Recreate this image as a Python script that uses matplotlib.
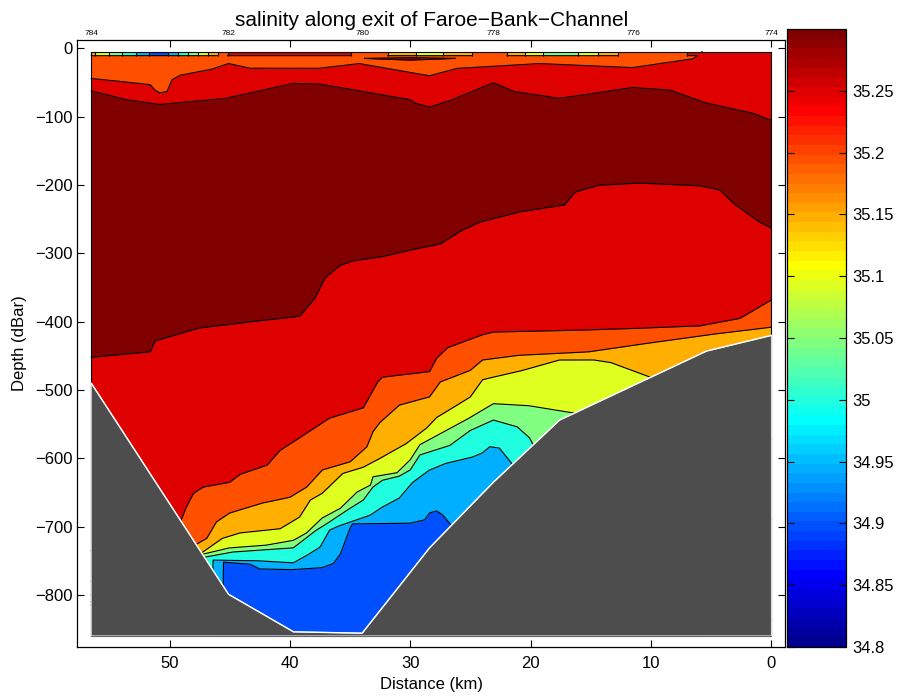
import numpy as np
import matplotlib
matplotlib.use("Agg")
import matplotlib.pyplot as plt
from matplotlib.colors import ListedColormap, Normalize
from matplotlib.cm import ScalarMappable
from matplotlib.patches import Rectangle

plt.rcParams['font.family'] = ['Liberation Sans', 'DejaVu Sans']

# ---------------- data ----------------
station_ids = [784, 783, 782, 781, 780, 779, 778, 777, 776, 775, 774]
station_km = [56.5, 50.8, 45.1, 39.7, 34.0, 28.4, 23.1, 17.6, 11.5, 5.4, 0.0]
labelled_ids = [784, 782, 780, 778, 776, 774]
# salinity in the uppermost (surface) bin at each station
surface_sal = [35.115, 34.86, 35.205, 35.23, 35.194, 35.077, 35.187, 35.005, 35.186, 35.205, 35.22]

# band edges (salinity) of the filled contours
band_levels = [34.85, 34.90, 34.95, 35.00, 35.05, 35.10, 35.15, 35.20, 35.25, 35.30]
cbar_ticks = [34.80, 34.85, 34.90, 34.95, 35.00, 35.05, 35.10, 35.15, 35.20, 35.25]

# isohaline depths (dBar) along distance (km)
iso3525_top_km = [56.5, 53.6, 50.8, 45.3, 39.7, 37.5, 30.0, 29.6, 28.4, 26.5, 24.6, 23.1, 21.4, 17.6, 12.6, 11.5, 8.4, 5.4, 1.5, 0.0]
iso3525_top_d = [-62, -75, -82, -73, -51, -52, -75, -80, -86, -75, -61, -50, -63, -73, -60, -57, -61, -80, -95, -105]

iso3520_top_km = [56.5, 53.6, 51.6, 51.2, 50.8, 50.2, 49.8, 49.1, 46.4, 45.1, 43.3, 37.5, 34.2, 28.4, 26.1, 19.2, 11.5, 6.5, 5.9, 5.5, 0.0]
iso3520_top_d = [-44, -49, -53, -61, -65, -63, -46, -39, -30, -22, -29, -29, -22, -40, -29, -22, -28, -15, -7, 0, 0]

iso3525_bot_km = [56.5, 51.6, 51.2, 47.5, 42.3, 39.2, 37.9, 37.1, 35.8, 34.8, 32.1, 30.0, 27.5, 25.7, 24.2, 20.9, 17.2, 16.3, 14.3, 10.9, 5.9, 4.3, 3.0, 1.0, 0.0]
iso3525_bot_d = [-452, -444, -428, -409, -398, -392, -365, -336, -317, -311, -304, -295, -286, -266, -254, -239, -229, -210, -200, -197, -201, -207, -229, -254, -263]

iso3520_km = [52.0, 49.1, 48.6, 48.0, 47.2, 45.0, 44.1, 41.9, 40.8, 39.2, 36.7, 33.9, 32.7, 32.3, 28.4, 27.8, 26.9, 24.0, 23.1, 15.1, 10.1, 5.9, 2.6, 0.0]
iso3520_d = [-735, -693, -671, -651, -642, -635, -623, -610, -588, -570, -541, -526, -488, -481, -473, -453, -438, -419, -415, -412, -409, -406, -395, -368]

iso3515_km = [52.0, 47.9, 46.9, 46.4, 46.1, 45.0, 42.2, 40.0, 38.6, 37.3, 35.0, 33.6, 33.1, 32.5, 30.9, 28.4, 27.5, 25.0, 24.0, 20.9, 15.1, 10.1, 4.3, 0.0]
iso3515_d = [-780, -727, -717, -702, -693, -680, -665, -657, -642, -617, -605, -583, -561, -547, -522, -510, -488, -471, -456, -449, -444, -431, -417, -408]

iso3510_km = [52.0, 47.4, 45.6, 44.1, 40.8, 39.2, 38.3, 37.3, 35.6, 33.9, 32.3, 30.3, 28.6, 27.8, 26.1, 25.0, 24.0, 23.1, 20.6, 17.6, 14.7, 13.3, 10.1, 5.9, 0.0]
iso3510_d = [-800, -739, -717, -709, -703, -686, -661, -651, -622, -613, -598, -578, -555, -540, -522, -510, -485, -481, -471, -456, -456, -460, -481, -515, -573]

iso3505_km = [52.0, 47.2, 45.0, 41.9, 39.7, 38.6, 37.3, 35.8, 34.4, 33.3, 33.1, 31.1, 30.0, 29.2, 25.0, 23.1, 20.1, 16.3, 12.6, 0.0]
iso3505_d = [-810, -740, -731, -727, -720, -709, -687, -673, -649, -639, -627, -621, -602, -580, -540, -520, -523, -534, -573, -690]

iso3500_km = [52.0, 47.2, 44.7, 39.7, 37.8, 36.7, 36.1, 35.0, 33.9, 33.1, 32.3, 30.9, 30.0, 29.2, 26.7, 25.0, 23.1, 21.1, 20.1, 19.8, 17.6, 0.0]
iso3500_d = [-815, -745, -737, -731, -705, -693, -686, -673, -661, -642, -632, -626, -617, -595, -581, -559, -544, -554, -570, -580, -617, -837]

iso3495_km = [52.0, 46.45, 46.39, 42.5, 39.7, 38.3, 37.5, 36.7, 35.8, 33.3, 32.3, 30.9, 29.8, 28.4, 27.0, 24.8, 24.0, 23.4, 22.6, 22.0, 21.6, 20.1, 0.0]
iso3495_d = [-900, -900, -749, -750, -753, -739, -730, -705, -698, -683, -671, -658, -635, -617, -607, -598, -592, -583, -585, -598, -607, -646, -950]

iso3490_km = [52.0, 45.62, 45.52, 43.3, 42.5, 39.7, 37.3, 36.4, 35.8, 35.0, 34.8, 30.0, 28.8, 28.4, 27.8, 27.3, 26.5, 25.0, 20.0, 0.0]
iso3490_d = [-900, -900, -752, -755, -762, -763, -760, -754, -740, -702, -696, -695, -690, -680, -677, -683, -700, -740, -900, -900]

# thin saltier lens just below the surface bin
lens_km = [33.8, 30.0, 26.3]
lens_top_d = [-14.5, -13.3, -14.5]
lens_bot_d = [-14.5, -17.0, -14.5]

# bottom topography
bathy_km = [56.5, 45.1, 39.7, 34.0, 28.4, 23.1, 17.6, 5.4, 0.0]
bathy_d = [-490, -799, -854, -856, -731, -635, -544, -443, -420]

# ---------------- style ----------------
Z_TOP = -4.5
STRIP_BOT = -10.5
Z_FLOOR = -860.0
X_WEST = station_km[0]


def matlab_jet(m=64):
    n = int(np.ceil(m / 4))
    u = np.r_[np.arange(1, n + 1) / n, np.ones(n - 1), np.arange(n, 0, -1) / n]
    g = int(np.ceil(n / 2)) - (1 if m % 4 == 1 else 0) + np.arange(1, len(u) + 1)
    r = g + n
    b = g - n
    cm = np.zeros((m, 3))
    for col, idx in ((0, r), (1, g), (2, b)):
        ok = (idx >= 1) & (idx <= m)
        cm[idx[ok] - 1, col] = u[ok]
    return cm


jet64 = matlab_jet(64)
cmap = ListedColormap(jet64)
band_idx = [13, 19, 26, 32, 38, 45, 51, 58, 64]
band_colors = [tuple(jet64[i - 1]) for i in band_idx]
(c_blue, c_lblue, c_cyan, c_green, c_yellow, c_orange, c_ored, c_red, c_dred) = band_colors

fig = plt.figure(figsize=(8.97, 6.96), dpi=100)
ax = fig.add_axes([0.0862, 0.0708, 0.7889, 0.8717])

xf = np.linspace(0.0, X_WEST, 3000)


def on_grid(km, d):
    km = np.asarray(km, float)[::-1]
    d = np.asarray(d, float)[::-1]
    v = np.interp(xf, km, d)
    return np.clip(v, Z_FLOOR, Z_TOP)


layers = [
    (None, c_ored),
    ((iso3520_top_km, iso3520_top_d), c_red),
    ((iso3525_top_km, iso3525_top_d), c_dred),
    ((iso3525_bot_km, iso3525_bot_d), c_red),
    ((iso3520_km, iso3520_d), c_ored),
    ((iso3515_km, iso3515_d), c_orange),
    ((iso3510_km, iso3510_d), c_yellow),
    ((iso3505_km, iso3505_d), c_green),
    ((iso3500_km, iso3500_d), c_cyan),
    ((iso3495_km, iso3495_d), c_lblue),
    ((iso3490_km, iso3490_d), c_blue),
]

for bound, col in layers:
    if bound is None:
        top = np.full_like(xf, Z_TOP)
    else:
        top = on_grid(*bound)
    ax.fill_between(xf, top, Z_FLOOR, color=col, lw=0, zorder=1)
    if bound is not None:
        line = np.where((top >= Z_TOP) | (top <= Z_FLOOR), np.nan, top)
        ax.plot(xf, line, color='k', lw=0.8, zorder=2)

# surface bin
sk = np.asarray(station_km)[::-1]
ss = np.asarray(surface_sal)[::-1]
SX, SY = np.meshgrid(sk, [STRIP_BOT, Z_TOP])
SZ = np.vstack([ss, ss])
ax.contourf(SX, SY, SZ, levels=band_levels, colors=band_colors, zorder=3)
ax.contour(SX, SY, SZ, levels=band_levels[1:-1], colors='k', linewidths=0.8, zorder=3.5)
sv = np.interp(xf, sk, ss)
strip_band = np.digitize(sv, band_levels)
front = on_grid(iso3520_top_km, iso3520_top_d)
below_band = np.where(front > STRIP_BOT, np.digitize(35.22, band_levels), np.digitize(35.17, band_levels))
edge = np.where(strip_band != below_band, STRIP_BOT, np.nan)
ax.plot(xf, edge, color='k', lw=0.8, zorder=3.6)

# lens
ax.fill_between(lens_km, lens_top_d, lens_bot_d, color=c_dred, lw=0, zorder=3)
ax.plot(lens_km, lens_top_d, color='k', lw=0.8, zorder=3.6)
ax.plot(lens_km, lens_bot_d, color='k', lw=0.8, zorder=3.6)

# outline of the data area
ax.add_patch(Rectangle((0, Z_FLOOR), X_WEST, Z_TOP - Z_FLOOR, fill=False, ec='k', lw=0.8, zorder=3.7))

# topography
ax.fill(list(bathy_km) + [0.0, X_WEST], list(bathy_d) + [Z_FLOOR, Z_FLOOR],
        facecolor='#4d4d4d', edgecolor='#d8d8d8', lw=0.8, zorder=5)
ax.plot(bathy_km, bathy_d, color='white', lw=1.0, zorder=5.1)

# station labels
for sid, km in zip(station_ids, station_km):
    if sid in labelled_ids:
        ax.text(km, 1.0115, str(sid), transform=ax.get_xaxis_transform(),
                ha='center', va='center', fontsize=6, clip_on=False)

ax.set_xlim(57.66, -1.12)
ax.set_ylim(-875.8, 12.4)
ax.set_xticks([0, 10, 20, 30, 40, 50])
ax.set_yticks(np.arange(-800, 1, 100))
ax.tick_params(direction='in', top=True, right=True, length=5, width=0.8, labelsize=12)
ax.tick_params(axis='x', pad=7)
for sp in ax.spines.values():
    sp.set_linewidth(0.9)
ax.set_xlabel('Distance (km)', fontsize=12, labelpad=4)
ax.set_ylabel('Depth (dBar)', fontsize=12, labelpad=6)
ax.set_title('salinity along exit of Faroe\u2212Bank\u2212Channel', fontsize=15, pad=10)

# colorbar
cax = fig.add_axes([0.877, 0.0704, 0.0658, 0.8879])
sm = ScalarMappable(norm=Normalize(34.8, 35.3), cmap=cmap)
cb = fig.colorbar(sm, cax=cax)
cb.set_ticks(cbar_ticks)
cb.set_ticklabels(['%g' % v for v in cbar_ticks])
cax.tick_params(direction='in', left=True, right=True, length=5, width=0.8, labelsize=12, pad=5)
cb.outline.set_linewidth(0.9)

fig.savefig('out.png', dpi=100, facecolor='white')
